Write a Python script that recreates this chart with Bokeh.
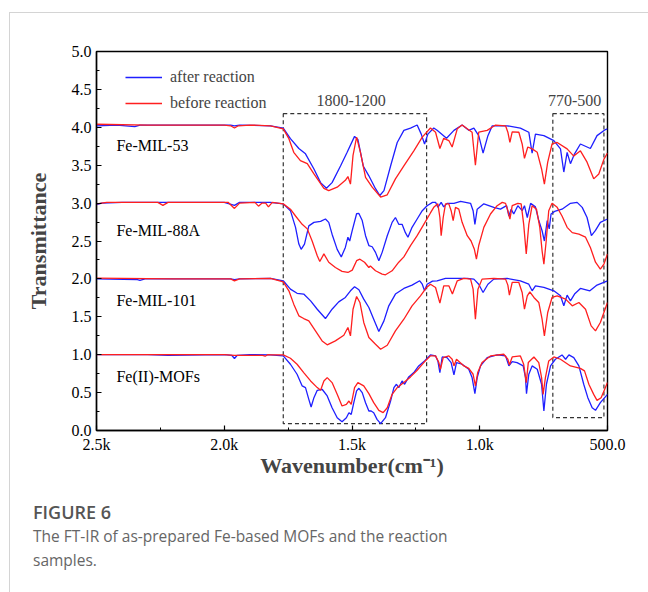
from bokeh.plotting import figure
from bokeh.models import Range1d, Label, Legend, LegendItem, FixedTicker, Div
from bokeh.layouts import column
from bokeh.embed import file_html
from bokeh.resources import INLINE

# ---------------- data (wavenumber cm-1, stacked transmittance) ----------------
mil53_after_wn = [2500, 2420, 2350, 2330, 2100, 1975, 1960, 1940, 1819, 1769, 1741, 1708, 1682, 1649, 1623, 1600, 1578, 1545, 1519, 1490, 1477, 1456, 1434, 1408, 1391, 1375, 1349, 1323, 1297, 1271, 1245, 1229, 1216, 1203, 1180, 1167, 1130, 1101, 1069, 1043, 1023, 1004, 987, 968, 951, 893, 841, 808, 795, 782, 749, 710, 684, 671, 658, 645, 629, 606, 567, 541, 508, 500]
mil53_after_t = [4.02, 4.03, 4.01, 4.03, 4.03, 4.03, 4.02, 4.03, 4.02, 3.99, 3.85, 3.72, 3.65, 3.45, 3.27, 3.195, 3.27, 3.49, 3.67, 3.88, 3.84, 3.49, 3.36, 3.19, 3.10, 3.165, 3.49, 3.80, 3.96, 3.99, 4.03, 3.91, 3.78, 3.91, 3.99, 3.96, 3.855, 3.96, 4.03, 3.96, 3.99, 3.89, 3.66, 3.89, 4.02, 4.02, 3.99, 3.935, 3.66, 3.91, 3.89, 3.825, 3.715, 3.41, 3.67, 3.52, 3.65, 3.78, 3.72, 3.89, 3.97, 3.98]

mil53_before_wn = [2500, 2300, 2000, 1975, 1960, 1945, 1900, 1819, 1769, 1747, 1728, 1702, 1675, 1649, 1610, 1591, 1558, 1526, 1516, 1506, 1496, 1482, 1467, 1447, 1421, 1388, 1362, 1330, 1297, 1258, 1225, 1193, 1173, 1156, 1141, 1121, 1108, 1088, 1069, 1049, 1030, 1017, 1004, 971, 938, 899, 890, 882, 873, 847, 834, 825, 812, 795, 775, 758, 747, 734, 717, 697, 658, 632, 606, 580, 554, 534, 514, 500]
mil53_before_t = [4.04, 4.03, 4.03, 4.02, 3.99, 4.02, 4.03, 4.02, 3.98, 3.85, 3.67, 3.56, 3.52, 3.385, 3.195, 3.165, 3.21, 3.30, 3.35, 3.25, 3.63, 3.87, 3.67, 3.34, 3.21, 3.08, 3.11, 3.32, 3.49, 3.69, 3.87, 3.99, 3.935, 3.72, 3.855, 3.825, 3.74, 3.98, 4.03, 3.98, 3.935, 3.50, 3.935, 3.96, 4.03, 4.02, 3.935, 3.80, 3.94, 3.935, 3.78, 3.59, 3.74, 3.715, 3.67, 3.45, 3.25, 3.54, 3.78, 3.80, 3.715, 3.62, 3.69, 3.54, 3.32, 3.385, 3.58, 3.66]

mil88a_after_wn = [2500, 2480, 2400, 2000, 1960, 1940, 1819, 1769, 1741, 1721, 1708, 1699, 1686, 1669, 1649, 1623, 1604, 1591, 1578, 1558, 1542, 1526, 1516, 1509, 1499, 1482, 1473, 1460, 1447, 1434, 1421, 1408, 1395, 1382, 1362, 1343, 1330, 1317, 1304, 1291, 1281, 1265, 1245, 1225, 1206, 1185, 1173, 1164, 1151, 1141, 1128, 1101, 1075, 1036, 1026, 1019, 1010, 984, 945, 919, 895, 886, 877, 867, 851, 834, 825, 814, 801, 782, 769, 756, 747, 736, 728, 721, 707, 678, 645, 619, 599, 580, 563, 547, 528, 500]
mil88a_after_t = [2.98, 3.00, 3.01, 3.01, 2.97, 3.01, 3.01, 2.99, 2.90, 2.68, 2.46, 2.39, 2.46, 2.70, 2.746, 2.76, 2.79, 2.746, 2.59, 2.39, 2.29, 2.415, 2.55, 2.50, 2.64, 2.86, 2.864, 2.77, 2.57, 2.44, 2.424, 2.35, 2.24, 2.35, 2.57, 2.746, 2.81, 2.72, 2.72, 2.61, 2.55, 2.68, 2.79, 2.90, 2.966, 3.01, 3.01, 2.944, 3.01, 2.95, 2.997, 2.997, 3.023, 2.997, 2.90, 2.72, 2.92, 2.99, 2.944, 2.92, 2.966, 2.83, 2.92, 2.856, 2.966, 2.90, 2.966, 2.81, 2.997, 2.95, 2.77, 2.635, 2.50, 2.77, 2.66, 2.856, 2.89, 2.92, 2.997, 3.01, 2.944, 2.81, 2.57, 2.64, 2.746, 2.79]

mil88a_before_wn = [2500, 2460, 2260, 2240, 2220, 1985, 1960, 1940, 1880, 1866, 1852, 1838, 1827, 1812, 1769, 1741, 1721, 1695, 1675, 1656, 1636, 1626, 1610, 1591, 1565, 1539, 1516, 1499, 1482, 1469, 1451, 1434, 1428, 1408, 1382, 1369, 1343, 1317, 1297, 1271, 1245, 1219, 1193, 1180, 1164, 1156, 1151, 1143, 1134, 1121, 1112, 1104, 1095, 1082, 1069, 1049, 1034, 1021, 1013, 1004, 984, 958, 932, 912, 899, 890, 882, 873, 851, 838, 828, 818, 808, 795, 778, 765, 756, 749, 740, 730, 717, 697, 678, 658, 638, 612, 586, 567, 547, 528, 514, 500]
mil88a_before_t = [2.99, 3.01, 3.01, 2.97, 3.01, 3.01, 2.93, 3.00, 3.01, 2.96, 3.00, 3.00, 2.95, 3.01, 2.99, 2.92, 2.83, 2.72, 2.66, 2.50, 2.305, 2.23, 2.33, 2.22, 2.15, 2.10, 2.085, 2.116, 2.24, 2.26, 2.22, 2.15, 2.17, 2.107, 2.063, 2.054, 2.107, 2.22, 2.29, 2.44, 2.57, 2.72, 2.87, 2.944, 2.99, 2.81, 2.57, 2.81, 2.99, 2.99, 2.90, 2.77, 2.944, 2.92, 2.746, 2.57, 2.50, 2.39, 2.26, 2.44, 2.68, 2.856, 2.966, 3.01, 2.997, 2.90, 2.79, 2.966, 2.997, 2.99, 2.72, 2.33, 2.72, 2.966, 2.92, 2.68, 2.37, 2.195, 2.50, 2.90, 2.997, 2.944, 2.83, 2.68, 2.61, 2.59, 2.55, 2.415, 2.22, 2.13, 2.195, 2.33]

mil101_after_wn = [2500, 2340, 2330, 2310, 1975, 1960, 1940, 1819, 1769, 1741, 1715, 1689, 1662, 1636, 1604, 1578, 1552, 1526, 1506, 1490, 1473, 1454, 1434, 1415, 1395, 1375, 1356, 1330, 1297, 1265, 1235, 1225, 1216, 1206, 1185, 1167, 1134, 1049, 1023, 1004, 987, 968, 945, 893, 841, 808, 795, 782, 749, 710, 684, 671, 658, 645, 629, 606, 569, 541, 500]
mil101_after_t = [2.00, 1.99, 1.98, 2.00, 2.00, 1.99, 2.00, 2.006, 1.975, 1.865, 1.81, 1.80, 1.71, 1.60, 1.477, 1.60, 1.697, 1.755, 1.843, 1.896, 1.856, 1.733, 1.623, 1.468, 1.306, 1.446, 1.645, 1.80, 1.874, 1.918, 1.975, 1.93, 1.843, 1.93, 1.97, 1.975, 2.006, 2.006, 1.997, 1.93, 1.821, 1.93, 1.997, 2.006, 1.975, 1.93, 1.843, 1.909, 1.887, 1.843, 1.777, 1.645, 1.786, 1.71, 1.80, 1.874, 1.843, 1.918, 1.975]

mil101_before_wn = [2500, 2200, 1975, 1960, 1940, 1819, 1769, 1747, 1728, 1708, 1689, 1669, 1643, 1617, 1597, 1565, 1532, 1516, 1506, 1496, 1482, 1469, 1454, 1434, 1408, 1388, 1362, 1330, 1297, 1265, 1232, 1208, 1193, 1173, 1156, 1141, 1121, 1107, 1088, 1062, 1036, 1026, 1017, 1007, 991, 945, 899, 890, 884, 873, 847, 834, 825, 814, 804, 788, 769, 756, 747, 734, 717, 697, 664, 638, 612, 586, 564, 547, 528, 500]
mil101_before_t = [2.01, 2.00, 2.00, 1.975, 2.00, 2.006, 1.96, 1.843, 1.667, 1.513, 1.477, 1.447, 1.314, 1.182, 1.13, 1.182, 1.257, 1.358, 1.248, 1.60, 1.768, 1.689, 1.425, 1.226, 1.138, 1.072, 1.125, 1.314, 1.468, 1.645, 1.777, 1.887, 1.93, 1.887, 1.68, 1.909, 1.909, 1.80, 1.975, 2.006, 1.997, 1.865, 1.468, 1.865, 1.997, 2.006, 1.997, 1.918, 1.786, 1.953, 1.953, 1.821, 1.60, 1.777, 1.83, 1.755, 1.689, 1.468, 1.248, 1.557, 1.755, 1.777, 1.733, 1.645, 1.689, 1.60, 1.38, 1.314, 1.425, 1.689]

fe2_after_wn = [2500, 2300, 2220, 2000, 1970, 1960, 1950, 1900, 1819, 1769, 1741, 1715, 1695, 1682, 1669, 1660, 1649, 1636, 1617, 1597, 1578, 1558, 1539, 1522, 1512, 1503, 1493, 1482, 1473, 1460, 1447, 1434, 1425, 1415, 1402, 1388, 1369, 1349, 1336, 1326, 1317, 1304, 1294, 1278, 1258, 1239, 1216, 1193, 1173, 1164, 1156, 1147, 1128, 1112, 1101, 1091, 1069, 1043, 1030, 1019, 1010, 997, 971, 932, 899, 886, 873, 854, 830, 821, 817, 808, 795, 775, 758, 749, 739, 723, 704, 678, 664, 651, 632, 612, 593, 577, 560, 547, 528, 500]
fe2_after_t = [1.00, 1.00, 0.99, 1.00, 0.99, 0.95, 0.99, 1.00, 0.997, 0.984, 0.874, 0.742, 0.588, 0.566, 0.411, 0.31, 0.433, 0.53, 0.544, 0.456, 0.30, 0.169, 0.116, 0.169, 0.235, 0.213, 0.367, 0.522, 0.557, 0.50, 0.367, 0.257, 0.257, 0.235, 0.147, 0.09, 0.169, 0.389, 0.566, 0.61, 0.566, 0.654, 0.61, 0.707, 0.764, 0.852, 0.918, 0.997, 0.984, 0.918, 0.764, 0.97, 0.962, 0.896, 0.733, 0.896, 0.874, 0.808, 0.698, 0.486, 0.698, 0.852, 0.962, 0.997, 0.984, 0.852, 0.909, 0.896, 0.852, 0.698, 0.486, 0.742, 0.852, 0.808, 0.61, 0.257, 0.61, 0.852, 0.94, 0.997, 0.94, 0.997, 0.962, 0.852, 0.61, 0.433, 0.30, 0.266, 0.367, 0.477]

fe2_before_wn = [2500, 2000, 1960, 1850, 1840, 1830, 1819, 1769, 1741, 1715, 1689, 1662, 1636, 1623, 1610, 1597, 1578, 1558, 1539, 1522, 1512, 1503, 1490, 1477, 1454, 1434, 1415, 1395, 1378, 1362, 1343, 1323, 1297, 1271, 1245, 1219, 1193, 1173, 1160, 1154, 1143, 1121, 1108, 1101, 1091, 1062, 1043, 1026, 1017, 1008, 991, 958, 906, 890, 884, 873, 841, 828, 818, 810, 788, 769, 758, 752, 743, 730, 710, 684, 645, 606, 590, 573, 554, 541, 525, 500]
fe2_before_t = [1.00, 1.00, 0.99, 0.99, 0.98, 1.00, 0.997, 0.997, 0.953, 0.874, 0.764, 0.654, 0.566, 0.53, 0.654, 0.698, 0.632, 0.477, 0.323, 0.345, 0.389, 0.345, 0.566, 0.632, 0.588, 0.486, 0.367, 0.266, 0.235, 0.30, 0.477, 0.566, 0.632, 0.707, 0.795, 0.896, 0.984, 0.984, 0.896, 0.808, 0.962, 0.984, 0.94, 0.852, 0.94, 0.852, 0.82, 0.742, 0.588, 0.764, 0.896, 0.984, 1.006, 0.94, 0.865, 0.97, 0.984, 0.874, 0.632, 0.896, 0.97, 0.896, 0.698, 0.477, 0.698, 0.918, 0.97, 0.94, 0.852, 0.82, 0.786, 0.61, 0.477, 0.398, 0.433, 0.632]

sample_names = ["Fe-MIL-53", "Fe-MIL-88A", "Fe-MIL-101", "Fe(II)-MOFs"]
sample_label_y = [3.76, 2.64, 1.71, 0.71]
region_names = ["1800-1200", "770-500"]
region_left = [1769, 714]
region_right = [1208, 514]
region_bottom = [0.09, 0.17]
region_top = [4.18, 4.18]
x_ticks = [2500, 2000, 1500, 1000, 500]
x_tick_labels = ["2.5k", "2.0k", "1.5k", "1.0k", "500.0"]
y_ticks = [0.0, 0.5, 1.0, 1.5, 2.0, 2.5, 3.0, 3.5, 4.0, 4.5, 5.0]

SERIF = "Liberation Serif"
BLUE = "#1f1fff"
RED = "#ff1f1f"

p = figure(width=638, height=477, x_range=Range1d(2500, 500), y_range=Range1d(0, 5),
           output_backend="svg", toolbar_location=None,
           min_border_left=86, min_border_right=41, min_border_top=38, min_border_bottom=60)
p.xgrid.visible = False
p.ygrid.visible = False
p.outline_line_color = "black"
p.outline_line_width = 1.4
p.background_fill_color = "white"

# dashed region boxes
p.quad(left=region_left, right=region_right, bottom=region_bottom, top=region_top,
       fill_color=None, line_color="#333333", line_dash="4 3", line_width=1.2)

pairs = [(mil53_after_wn, mil53_after_t, mil53_before_wn, mil53_before_t),
         (mil88a_after_wn, mil88a_after_t, mil88a_before_wn, mil88a_before_t),
         (mil101_after_wn, mil101_after_t, mil101_before_wn, mil101_before_t),
         (fe2_after_wn, fe2_after_t, fe2_before_wn, fe2_before_t)]
blue_r, red_r = [], []
for aw, at, bw, bt in pairs:
    blue_r.append(p.line(aw, at, line_color=BLUE, line_width=1.3))
for aw, at, bw, bt in pairs:
    red_r.append(p.line(bw, bt, line_color=RED, line_width=1.3))

legend = Legend(items=[LegendItem(label="after reaction", renderers=[blue_r[0]]),
                       LegendItem(label="before reaction", renderers=[red_r[0]])],
                location=(29, 317), border_line_color=None, background_fill_alpha=0,
                label_text_font=SERIF, label_text_font_size="16px",
                glyph_width=37, glyph_height=20, label_standoff=8, spacing=6,
                padding=0, margin=0)
p.add_layout(legend)

for name, yv in zip(sample_names, sample_label_y):
    p.add_layout(Label(x=2422, y=yv, text=name, text_font=SERIF, text_font_size="16px",
                       text_baseline="middle", text_color="black"))
for name, l, r in zip(region_names, region_left, region_right):
    p.add_layout(Label(x=(l + r) / 2 + 15, y=4.35, text=name, text_font=SERIF,
                       text_font_size="16px", text_align="center", text_baseline="middle"))

for ax in (p.xaxis[0], p.yaxis[0]):
    ax.axis_line_width = 1.4
    ax.major_tick_in = 5
    ax.major_tick_out = 0
    ax.minor_tick_in = 3
    ax.minor_tick_out = 0
    ax.major_tick_line_width = 1.2
    ax.major_label_text_font = SERIF
    ax.major_label_text_font_size = "16px"
    ax.major_label_text_color = "black"
    ax.axis_label_text_font = SERIF
    ax.axis_label_text_font_size = "22px"
    ax.axis_label_text_font_style = "bold"
    ax.major_label_standoff = 5

p.xaxis.ticker = FixedTicker(ticks=x_ticks, minor_ticks=[2250, 1750, 1250, 750])
p.xaxis.major_label_overrides = {t: s for t, s in zip(x_ticks, x_tick_labels)}
p.xaxis.axis_label = "Wavenumber(cm\u207b\u00b9)"
p.xaxis.axis_label_standoff = -3
p.yaxis.ticker = FixedTicker(ticks=y_ticks, minor_ticks=[v + 0.25 for v in y_ticks[:-1]])
p.yaxis.major_label_overrides = {t: f"{t:.1f}" for t in y_ticks}
p.yaxis.axis_label = "Transmittance"
p.yaxis.axis_label_standoff = 18

cap = Div(text=('<div style="font-family:\'Open Sans\',sans-serif;width:470px;">'
                '<div style="font-size:18px;font-weight:600;color:#555555;line-height:24px;">FIGURE 6</div>'
                '<div style="font-size:15.5px;color:#666666;line-height:24px;">'
                'The FT-IR of as-prepared Fe-based MOFs and the reaction samples.</div></div>'),
          width=600, height=92, margin=(10, 0, 0, 23))

layout = column(p, cap, margin=(12, 0, 0, 9),
                styles={"border-left": "1px solid #d4d4d4", "border-top": "1px solid #d4d4d4"})

open("out.html", "w").write(file_html(layout, INLINE))
